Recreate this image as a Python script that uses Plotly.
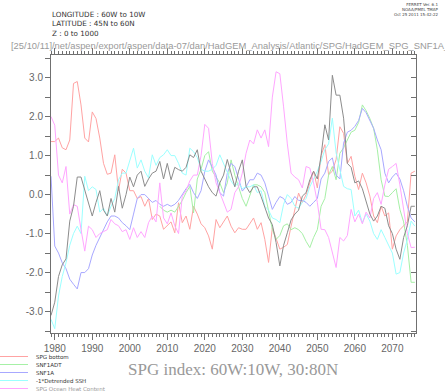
import plotly.graph_objects as go

years = list(range(1979, 2077))

black_series = [
    -3.1, -2.76, -2.1, -1.8, -1.65, -0.68, -0.3, 0.45, 0.45, 0.1,
    -0.2, -0.55, -0.2, 0.1, -0.4, -0.55, -0.1, -0.45, 0.21, -0.35,
    0.0, 0.45, 0.2, 0.5, 0.6, 0.21, 0.4, 0.55, 0.6, 0.85,
    0.4, 0.8, 0.38, 0.7, 0.64, 0.6, 0.7, 1.02, 0.95, 1.15,
    0.6, 0.38, 0.2, 0.05, -0.04, 0.3, 0.5, 0.9, 0.55, 0.2,
    0.6, 0.89, 0.21, 0.05, 0.2, 0.2, -0.05, -0.3, -0.6, -0.77,
    -1.23, -1.83, -1.3, -0.98, -0.65, -0.5, -0.4, -0.04, 0.05, 0.38,
    0.6, 0.4, 1.0, 1.79, 1.4, 3.06, 2.55, 2.55, 1.96, 0.8,
    0.7, 0.3, 0.35, 0.15, -0.21, -0.5, -0.68, -0.55, -0.3, -0.35,
    -0.8, -1.0, -1.4, -1.66, -1.1, -0.8, -0.3, -0.3,
]

spg_bottom = [
    1.36, 1.36, 1.45, 1.2, 1.15, 1.4, 2.85, 2.9, 2.3, 1.45,
    1.35, 2.12, 1.95, 1.45, 0.8, 0.52, 0.55, 1.02, 0.1, 0.65,
    0.55, 0.1, 0.1, -0.1, -0.05, -0.3, -0.1, -0.64, -0.5, -0.55,
    -0.89, -0.8, -0.7, -0.98, -0.21, -0.72, -0.55, -0.89, -0.3, -0.5,
    -0.75, -0.85, -1.06, -1.4, -0.64, -0.85, -0.7, -0.55, -0.81, -0.98,
    -0.85, -0.89, -0.89, -0.75, -0.6, -0.89, -0.72, -1.15, -1.74, -0.85,
    -1.15, -1.4, -1.35, -1.28, -0.81, -0.4, 0.04, -0.2, 0.0, 0.3,
    0.6, 0.17, 1.0, 1.28, 0.51, 0.6, 0.9, 1.74, 1.57, 0.8,
    0.98, 0.47, 0.13, 0.55, 0.3, -0.04, -0.55, -0.72, -0.3, -0.55,
    -0.47, -1.4, -1.06, -0.9, -0.8, -0.7, 0.55, 0.6,
]

snf1adt = [None] * 29 + [
    -0.3,
    -0.4, -0.45, -0.4, -0.45, -0.3, -0.15, 0.05, 0.21, -0.47, 0.4,
    0.65, 1.0, 1.1, 0.6, 0.45, 0.3, 0.05, 0.3, 0.89, 0.5,
    0.2, -0.1, -0.3, 0.0, 0.25, 0.25, 0.2, 0.05, -0.4, -0.89,
    -1.15, -1.05, -0.8, -0.75, -0.9, -0.85, -0.9, -1.0, -1.2, -1.36,
    -1.1, -0.9, -0.3, -0.1, 0.5, 0.72, 0.38, 1.06, 1.2, 1.4,
    1.6, 1.65, 1.85, 2.3, 2.15, 1.95, 1.7, 1.15, 0.38, -0.04,
    -0.05, 0.05, 0.15, -0.38, -0.7, -1.3, -2.25, -2.25,
]

snf1a = [
    0.47, -1.32, -1.5, -1.75, -1.9, -2.17, -2.3, -2.42, -2.0, -2.0,
    -1.9, -1.55, -1.3, -1.1, -0.9, -0.7, -0.55, -0.55, -0.6, -0.72,
    -0.8, -0.9, -0.5, -0.1, 0.0, 0.0, -0.1, -0.2, -0.15, -0.25,
    -0.3, -0.25, -0.3, -0.25, -0.15, 0.0, 0.15, 0.26, 0.05, -0.1,
    0.1, 0.6, 0.89, 0.7, 0.5, 0.05, -0.04, 0.55, 0.8, 0.72,
    0.38, 0.09, 0.2, 0.38, 0.38, 0.55, 0.5, 0.3, -0.04, -0.38,
    -0.2, -0.05, -0.1, -0.25, -0.2, -0.05, -0.15, -0.15, -0.2, -0.3,
    -0.2, -0.1, 0.4, 0.55, 0.85, 0.94, 0.5, 0.4, 1.32, 1.6,
    1.65, 1.75, 1.9, 2.21, 2.1, 1.9, 1.7, 1.4, 1.15, 0.55,
    0.3, 0.45, 0.55, 0.4, 0.1, -0.3, -0.6, -0.7,
]

detrended_ssh = [
    -3.2, -3.44, -2.6, -2.1, -1.75, -1.3, -1.0, -0.81, -1.0, 0.47,
    0.1, 0.2, 0.13, -0.45, -0.35, -0.55, -0.3, -0.1, 0.38, 0.55,
    0.55, 0.9, 1.19, 0.68, 0.89, 0.6, 0.43, 1.02, 0.75, 0.95,
    1.02, 1.15, 1.0, 1.0, 0.8, 0.55, 0.5, 1.19, 1.1, 0.95,
    0.65, 0.6, 0.6, 0.65, 0.75, 1.02, 0.8, 0.6, 0.35, 0.21,
    0.3, 0.15, 0.2, 0.2, 0.25, 0.05, 0.1, -0.3, -0.4, -0.6,
    -0.64, -0.72, -0.25, 0.0, -0.1, -0.3, -0.35, -0.2, -0.1, 0.2,
    0.4, 0.6, 0.85, 1.15, 1.3, 1.96, 1.07, 0.6, 0.21, 0.15,
    0.13, -0.55, -0.4, -0.72, -0.5, -0.68, -1.0, -1.15, -0.9, -1.1,
    -1.32, -1.5, -2.04, -2.0, -1.5, -1.15, -0.68, -0.81,
]

ocean_heat = [
    2.0, 1.78, 0.5, 0.3, 0.72, -0.5, -0.26, -0.3, -0.89, -1.45,
    -0.81, -0.9, -1.1, -1.0, -0.95, -0.9, -0.64, -0.75, -0.8, -0.95,
    -0.9, -1.15, -0.85, -1.1, -0.95, -1.1, -0.72, -0.55, -0.7, 0.3,
    -0.6, -0.75, -0.47, -0.8, -1.0, -0.04, 0.1, 0.35, 0.5, 0.5,
    1.0, 1.8, 1.7, 0.8, 0.3, 0.05, -0.2, -0.45, -0.38, 0.05,
    0.2, 0.55, 1.06, 1.4, 1.3, 1.66, 1.45, 1.66, 1.23, 2.5,
    3.15, 3.1, 2.25, 1.3, 0.55, 0.45, 0.38, 0.17, 0.72, 0.68,
    0.3, -0.2, -0.89, -0.9, -1.1, -1.49, -1.87, -1.1, -1.19, -1.05,
    -0.38, -0.7, -0.5, -0.75, -0.45, -0.6, -0.1, 0.05, -0.25, 0.25,
    0.65, 0.72, 0.8, 0.25, -0.4, -1.0, -1.36, -1.35,
]

legend_names = ["SPG bottom", "SNF1ADT", "SNF1A", "-1*Detrended SSH", "SPG Ocean Heat Content"]
legend_colors = ["#ffa3a3", "#a6f0a6", "#a8a8ff", "#9cffff", "#ffa6ff"]
legend_series = [spg_bottom, snf1adt, snf1a, detrended_ssh, ocean_heat]

x_tick_vals = [1980, 1990, 2000, 2010, 2020, 2030, 2040, 2050, 2060, 2070]
y_tick_vals = [-3.5, -3.0, -2.5, -2.0, -1.5, -1.0, -0.5, 0.0, 0.5, 1.0, 1.5, 2.0, 2.5, 3.0, 3.5]
y_tick_text = [("%.1f" % v if abs(v - round(v)) < 1e-9 else "") for v in y_tick_vals]
y_range = [-3.55, 3.58]
x_range = [1979, 2076.3]

W, H = 445, 391
L, R, T, B = 51, 29, 55, 58
PW, PH = W - L - R, H - T - B


def px(xp):
    return (xp - L) / PW


def py(yp):
    return (H - B - yp) / PH


fig = go.Figure()

for name, color, ser in zip(legend_names, legend_colors, legend_series):
    fig.add_trace(go.Scatter(x=years, y=ser, mode="lines", name=name,
                             line=dict(color=color, width=1), showlegend=False,
                             hoverinfo="skip"))

fig.add_trace(go.Scatter(x=years, y=black_series, mode="lines", name="",
                         line=dict(color="#8c8c8c", width=1), showlegend=False,
                         yaxis="y2", hoverinfo="skip"))

axis_col = "#707070"
tick_font = dict(family="Liberation Sans", size=10, color="#666666")

fig.update_layout(
    width=W, height=H,
    margin=dict(l=L, r=R, t=T, b=B, pad=0),
    paper_bgcolor="white", plot_bgcolor="white",
    showlegend=False,
    xaxis=dict(range=x_range, tickmode="array", tickvals=x_tick_vals,
               ticktext=[str(v) for v in x_tick_vals],
               ticks="outside", ticklen=6, tickwidth=1, tickcolor=axis_col,
               minor=dict(dtick=1, tick0=1979, ticks="outside", ticklen=3,
                          tickcolor=axis_col, showgrid=False),
               showline=True, linecolor=axis_col, linewidth=1, mirror="ticks",
               showgrid=False, zeroline=False, tickfont=tick_font),
    yaxis=dict(range=y_range, tickmode="array", tickvals=y_tick_vals,
               ticktext=y_tick_text, ticks="outside", ticklen=5,
               tickcolor=axis_col, showline=True, linecolor=axis_col,
               linewidth=1, mirror=True, showgrid=False, zeroline=False,
               tickfont=tick_font),
    yaxis2=dict(range=y_range, overlaying="y", side="right", tickmode="array",
                tickvals=y_tick_vals, ticktext=["" for _ in y_tick_vals],
                ticks="inside", ticklen=5, tickcolor=axis_col,
                showline=False, showgrid=False, zeroline=False,
                showticklabels=False),
)

ann = []
ann.append(dict(x=px(50), y=py(8), xref="paper", yref="paper",
                text="LONGITUDE : 60W to 10W<br>LATITUDE : 45N to 60N<br>Z : 0 to 1000",
                showarrow=False, xanchor="left", yanchor="top", align="left",
                font=dict(family="DejaVu Sans", size=7.2, color="#333333")))
ann.append(dict(x=px(441), y=py(0), xref="paper", yref="paper",
                text="FERRET Ver. 6.1<br>NOAA/PMEL TMAP<br>Oct 25 2011 15:42:22",
                showarrow=False, xanchor="right", yanchor="top", align="right",
                font=dict(family="DejaVu Sans", size=4, color="#444444")))
ann.append(dict(x=px(9), y=py(45), xref="paper", yref="paper",
                text="[25/10/11]/net/aspen/export/aspen/data-07/dan/HadGEM_Analysis/Atlantic/SPG/HadGEM_SPG_SNF1A_2",
                showarrow=False, xanchor="left", yanchor="middle",
                font=dict(family="Liberation Sans", size=9.4, color="#9a9a9a")))
ann.append(dict(x=px(233), y=py(369), xref="paper", yref="paper",
                text="SPG index: 60W:10W, 30:80N", showarrow=False,
                xanchor="center", yanchor="middle",
                font=dict(family="Liberation Serif", size=17, color="#999999")))

shapes = []
for i, (name, color) in enumerate(zip(legend_names, legend_colors)):
    yy = 356.5 + i * 8.0
    shapes.append(dict(type="line", xref="paper", yref="paper",
                       x0=px(0), x1=px(28), y0=py(yy), y1=py(yy),
                       line=dict(color=color, width=1)))
    ann.append(dict(x=px(34), y=py(yy), xref="paper", yref="paper",
                    text=name, showarrow=False, xanchor="left", yanchor="middle",
                    font=dict(family="DejaVu Sans", size=5.5,
                              color="#999999" if i == 4 else "#333333")))

fig.update_layout(annotations=ann, shapes=shapes)

fig.write_html("out.html", config={"displayModeBar": False},
               post_script="document.body.style.margin='0';document.body.style.overflow='hidden';")
